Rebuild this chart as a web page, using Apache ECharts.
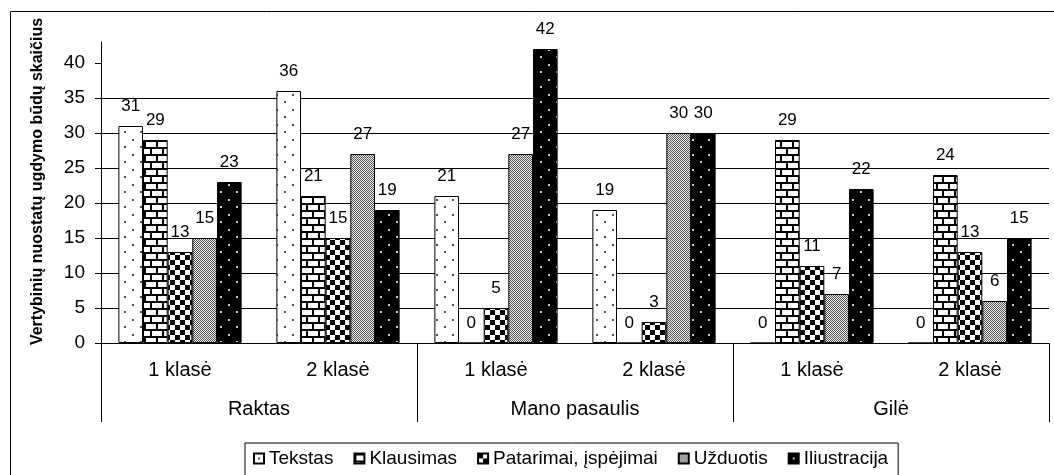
<!DOCTYPE html>
<html>
<head>
<meta charset="utf-8">
<title>Vertybinių nuostatų ugdymo būdai</title>
<script src="https://cdn.jsdelivr.net/npm/echarts@6/dist/echarts.min.js"></script>
<style>
    html, body { margin: 0; padding: 0; background: #fff; }
    #bar_show { width: 1054px; height: 475px; }
</style>
</head>
<body>
<div id="bar_show"></div>
<script>
// 数据
var classes = ['1 klasė', '2 klasė', '1 klasė', '2 klasė', '1 klasė', '2 klasė'];
var books = ['Raktas', 'Mano pasaulis', 'Gilė'];
var yTicks = [0, 5, 10, 15, 20, 25, 30, 35, 40];

var tekstas = [31, 36, 21, 19, 0, 0];
var klausimas = [29, 21, 0, 0, 29, 24];
var patarimai = [13, 15, 5, 3, 11, 13];
var uzduotis = [15, 27, 27, 30, 7, 6];
var iliustracija = [23, 19, 42, 30, 22, 15];

var names = ['Tekstas', 'Klausimas', 'Patarimai, įspėjimai', 'Užduotis', 'Iliustracija'];

// 图案填充
function makePattern(w, h, draw) {
    var c = document.createElement('canvas');
    c.width = w;
    c.height = h;
    draw(c.getContext('2d'));
    return { image: c, repeat: 'repeat' };
}

var dotsWhite = makePattern(16, 15, function(ctx) {
    ctx.fillStyle = '#fff';
    ctx.fillRect(0, 0, 16, 15);
    ctx.fillStyle = '#555';
    ctx.fillRect(4, 4, 2, 2);
    ctx.fillRect(12, 11, 2, 2);
});

var bricks = makePattern(12, 14, function(ctx) {
    ctx.fillStyle = '#fff';
    ctx.fillRect(0, 0, 12, 14);
    ctx.fillStyle = '#000';
    ctx.fillRect(0, 0, 12, 2);
    ctx.fillRect(0, 7, 12, 2);
    ctx.fillRect(0, 2, 2, 5);
    ctx.fillRect(6, 9, 2, 5);
});

var checks = makePattern(10, 10, function(ctx) {
    ctx.fillStyle = '#fff';
    ctx.fillRect(0, 0, 10, 10);
    ctx.fillStyle = '#000';
    ctx.fillRect(0, 0, 5, 5);
    ctx.fillRect(5, 5, 5, 5);
});

var hatch = makePattern(4, 4, function(ctx) {
    for (var x = 0; x < 4; x++) {
        for (var y = 0; y < 4; y++) {
            ctx.fillStyle = (x + y) % 2 == 0 ? '#555' : '#eee';
            ctx.fillRect(x, y, 1, 1);
        }
    }
});

var dotsBlack = makePattern(16, 15, function(ctx) {
    ctx.fillStyle = '#000';
    ctx.fillRect(0, 0, 16, 15);
    ctx.fillStyle = '#ccc';
    ctx.fillRect(4, 4, 2, 2);
    ctx.fillRect(12, 11, 2, 2);
});

var fills = [dotsWhite, bricks, checks, hatch, dotsBlack];
var values = [tekstas, klausimas, patarimai, uzduotis, iliustracija];

var font = 'Liberation Sans, Arial, sans-serif';

var series = [];
for (var i = 0; i < names.length; i++) {
    series.push({
        name: names[i],
        type: 'bar',
        xAxisIndex: 0,
        barGap: '0%',
        barCategoryGap: '22%',
        itemStyle: {
            color: fills[i],
            borderColor: '#000',
            borderWidth: 1
        },
        label: {
            show: true,
            position: 'top',
            distance: 11,
            color: '#000',
            fontFamily: font,
            fontSize: 17
        },
        data: values[i]
    });
}

var myChart = echarts.init(document.getElementById('bar_show'));

var option = {
    animation: false,
    backgroundColor: '#fff',
    textStyle: { fontFamily: font },
    grid: {
        left: 101,
        right: 5,
        top: 42,
        bottom: 132
    },
    legend: {
        left: 245,
        top: 443,
        data: names,
        icon: 'rect',
        itemWidth: 10,
        itemHeight: 10,
        itemGap: 20,
        padding: [6, 10, 10, 8],
        borderColor: '#000',
        borderWidth: 1,
        textStyle: { color: '#000', fontSize: 19, fontFamily: font }
    },
    xAxis: [{
        type: 'category',
        position: 'bottom',
        data: classes,
        axisLine: { lineStyle: { color: '#000', width: 1 } },
        axisTick: { length: 40, lineStyle: { color: '#000' } },
        axisLabel: { color: '#000', fontSize: 20, margin: 17 }
    }, {
        type: 'category',
        position: 'bottom',
        data: books,
        axisLine: { show: false },
        axisTick: { show: true, length: 79, lineStyle: { color: '#000' } },
        axisLabel: { color: '#000', fontSize: 20, margin: 56 }
    }],
    yAxis: {
        type: 'value',
        min: 0,
        max: 43,
        interval: 5,
        name: 'Vertybinių nuostatų ugdymo būdų skaičius',
        nameLocation: 'middle',
        nameGap: 55,
        nameTextStyle: {
            color: '#000',
            fontSize: 16,
            fontWeight: 'bold',
            fontFamily: font,
            padding: [0, 0, 0, 22]
        },
        axisLine: { show: true, lineStyle: { color: '#000' } },
        axisTick: { show: true, length: 6, lineStyle: { color: '#000' }, customValues: yTicks },
        axisLabel: { color: '#000', fontSize: 19, margin: 16, customValues: yTicks },
        splitLine: { show: true, showMaxLine: false, lineStyle: { color: '#000', width: 1 } }
    },
    graphic: [{
        type: 'rect',
        shape: { x: 10.5, y: 11.5, width: 1100, height: 500 },
        style: { fill: null, stroke: '#000', lineWidth: 1 },
        silent: true,
        z: -1
    }],
    series: series
};

myChart.setOption(option);
</script>
</body>
</html>
